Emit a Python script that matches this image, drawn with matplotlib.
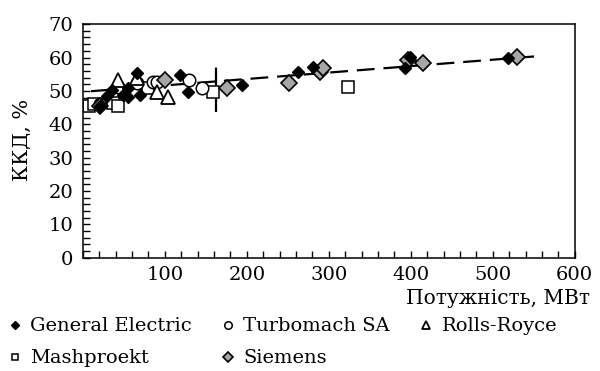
import numpy as np
import matplotlib
matplotlib.use("Agg")
import matplotlib.pyplot as plt
from matplotlib.ticker import MultipleLocator

plt.rcParams['font.family'] = ['DejaVu Serif']

# data: power, MW / efficiency, %
ge_x = [21, 30, 35, 49, 55, 55, 66, 70, 118, 128, 194, 262, 281, 393, 399, 518]
ge_y = [45.5, 48.5, 50.3, 48.8, 48.2, 50.9, 55.3, 48.8, 54.7, 49.7, 51.8, 55.6, 57.1, 56.8, 60.1, 59.8]

turbomach_x = [21, 43, 66, 85, 90, 130, 145]
turbomach_y = [46.0, 51.2, 52.3, 52.6, 52.6, 53.2, 50.9]

rr_x = [43, 66, 91, 104]
rr_y = [53.2, 53.8, 49.7, 48.3]

mash_x = [8, 14, 37, 43, 79, 159, 323]
mash_y = [45.5, 46.0, 46.5, 45.5, 51.0, 49.7, 51.2]

siemens_x = [21, 100, 176, 252, 289, 293, 396, 415, 530]
siemens_y = [45.5, 53.2, 50.9, 52.3, 55.6, 56.8, 59.2, 58.3, 60.1]

trend_x = [10, 555]
trend_y = [49.9, 60.4]
split_x = 163
split_y = [43.7, 58.3]

fig = plt.figure(figsize=(6, 3.71), dpi=100)
ax = fig.add_axes([0.138, 0.305, 0.82, 0.63])

ax.plot(trend_x, trend_y, color='black', lw=1.6, dashes=(8, 4), zorder=1)
ax.plot([split_x, split_x], split_y, color='black', lw=1.6, dashes=(8, 4), zorder=1)

ax.plot(mash_x, mash_y, 's', ms=8, mfc='white', mec='black', mew=1.1, ls='none', label='Mashproekt', zorder=2)
ax.plot(turbomach_x, turbomach_y, 'o', ms=9, mfc='white', mec='black', mew=1.1, ls='none', label='Turbomach SA', zorder=3)
ax.plot(rr_x, rr_y, '^', ms=9.5, mfc='white', mec='black', mew=1.3, ls='none', label='Rolls-Royce', zorder=3)
ax.plot(siemens_x, siemens_y, 'D', ms=8.5, mfc='#a6a6a6', mec='black', mew=1.2, ls='none', label='Siemens', zorder=4)
ax.plot(ge_x, ge_y, 'D', ms=6.5, mfc='black', mec='black', ls='none', label='General Electric', zorder=5)

ax.set_xlim(0, 600)
ax.set_ylim(0, 70)
ax.set_xticks([100, 200, 300, 400, 500, 600])
ax.set_yticks(range(0, 71, 10))
ax.xaxis.set_minor_locator(MultipleLocator(20))
ax.yaxis.set_minor_locator(MultipleLocator(2))
ax.tick_params(which='both', direction='in', length=5, width=1, labelsize=14)
ax.tick_params(axis='y', pad=7)
ax.tick_params(axis='x', pad=6)
for s in ax.spines.values():
    s.set_linewidth(1.1)

fig.text(0.984, 1 - 298 / 371, 'Потужність, МВт', ha='right', va='center', fontsize=14.5)
fig.text(0.037, 1 - 140 / 371, 'ККД, %', rotation=90, ha='center', va='center', fontsize=15)

h, l = ax.get_legend_handles_labels()
order = [4, 0, 1, 3, 2]
leg = fig.legend([h[i] for i in order], [l[i] for i in order], ncol=3, loc='lower left',
                 bbox_to_anchor=(-0.008, -0.022), frameon=False, fontsize=14,
                 handlelength=0.8, handletextpad=0.4, columnspacing=1.45, labelspacing=0.72,
                 markerscale=0.6, borderaxespad=0.2)

fig.savefig('out.png', dpi=100)
